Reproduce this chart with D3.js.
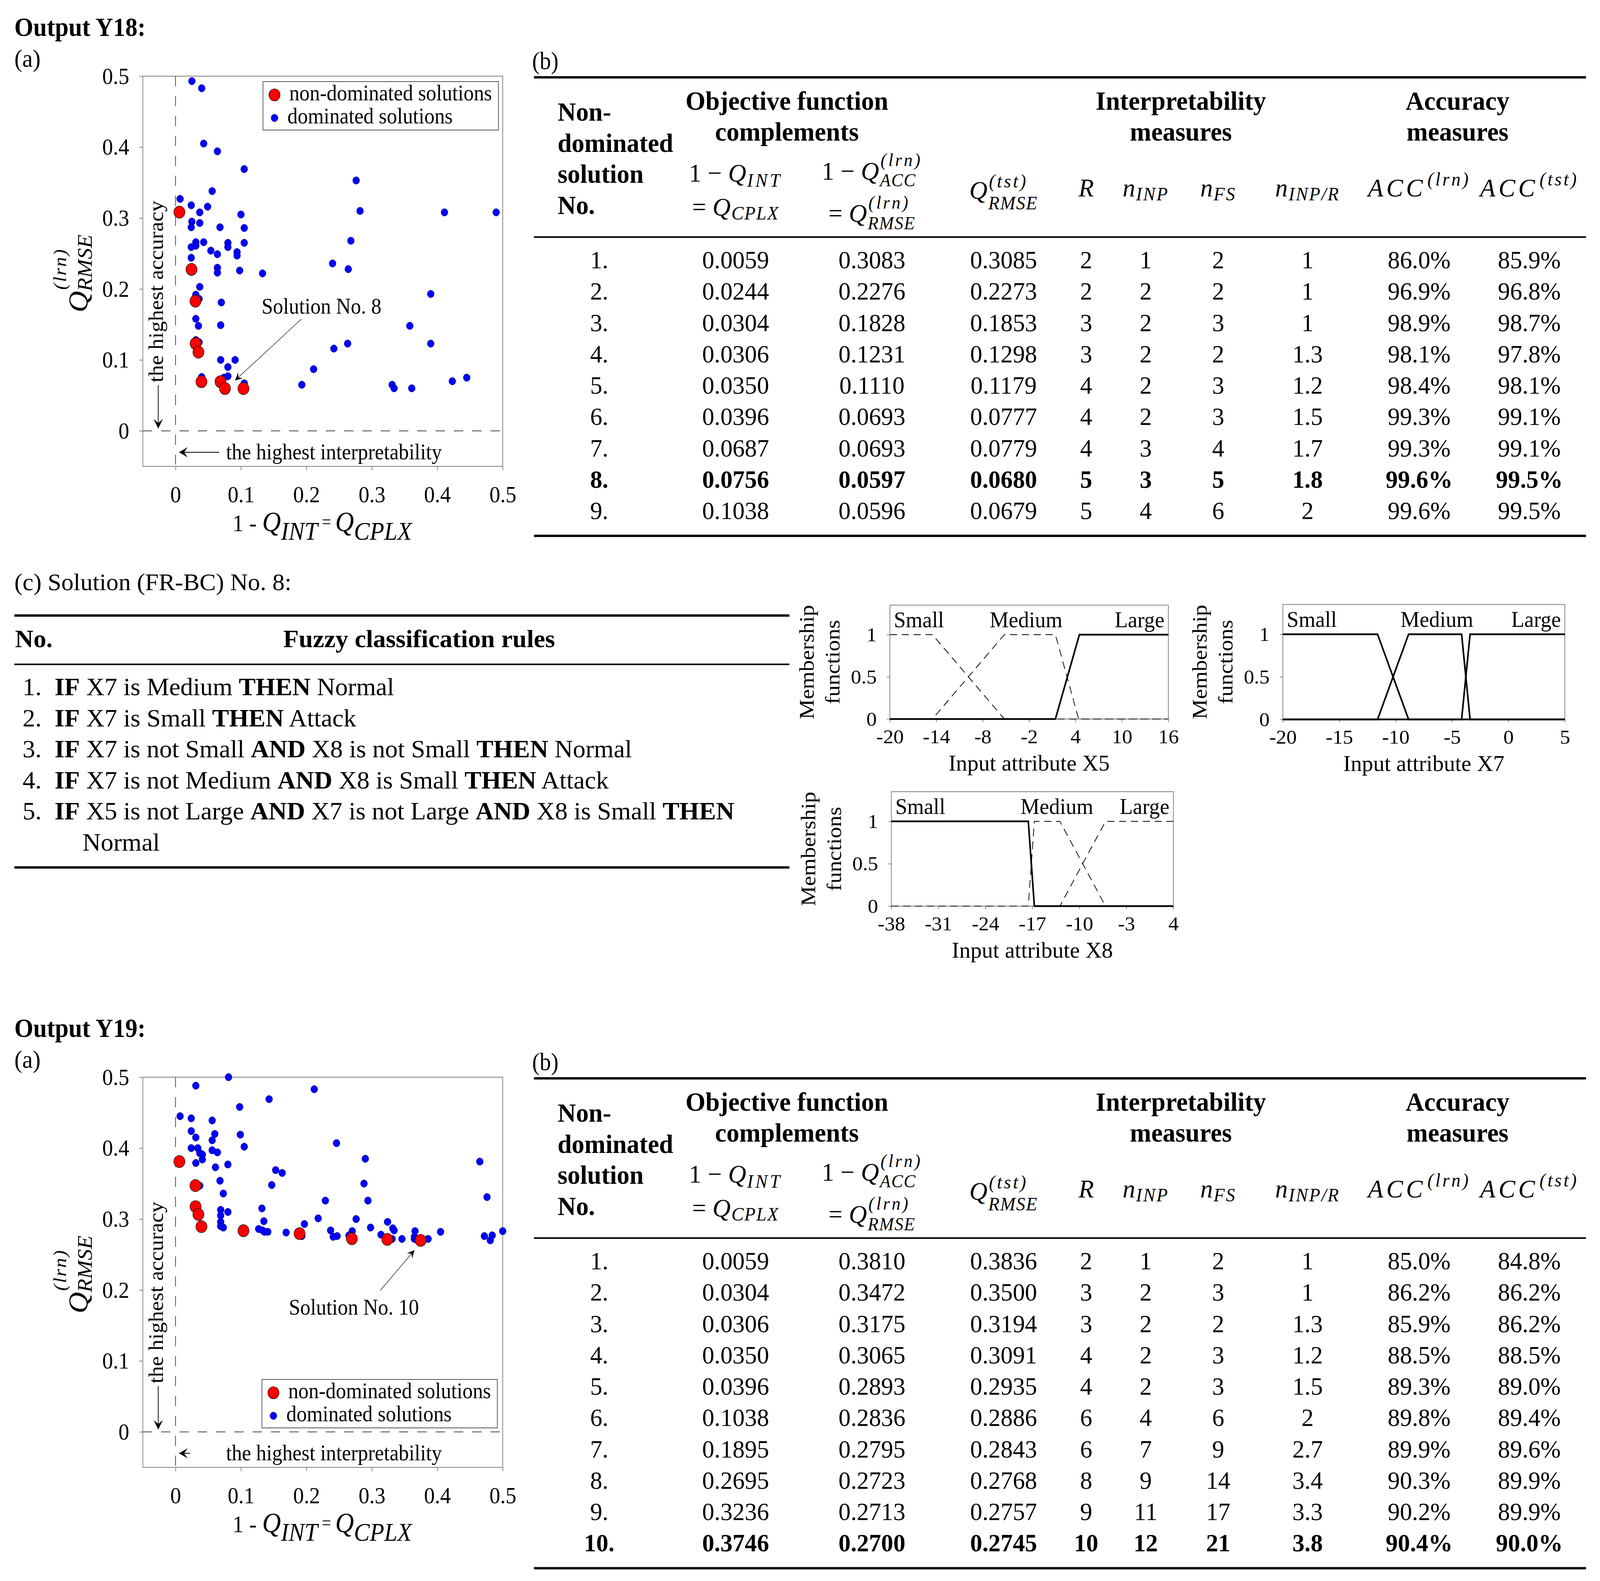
<!DOCTYPE html>
<html>
<head>
<meta charset="utf-8">
<script src="https://cdn.jsdelivr.net/npm/d3@7"></script>
<style>
  html, body { margin: 0; padding: 0; background: #fff; overflow: hidden; }
  #fig { width: 100vw; height: 100vh; }
  svg { display: block; width: 100vw; height: 100vh; }
  text { font-family: "Liberation Serif", "Times New Roman", serif; fill: #000; white-space: pre; }
</style>
</head>
<body>
<div id="fig"></div>
<script>
// -----------------------------------------
// DATA
// -----------------------------------------
var ticksQ = [0, 0.1, 0.2, 0.3, 0.4, 0.5];

// dominated solutions, Y18 : [1 - Q_INT, Q_RMSE(lrn)]
var y18Dominated = [
  [0.025,0.493],[0.040,0.483],[0.043,0.405],[0.064,0.394],[0.105,0.369],[0.276,0.353],
  [0.056,0.338],[0.007,0.327],[0.024,0.318],[0.049,0.316],[0.037,0.308],[0.100,0.305],
  [0.282,0.310],[0.411,0.308],[0.490,0.308],[0.025,0.295],[0.037,0.293],[0.024,0.287],
  [0.068,0.287],[0.105,0.286],[0.031,0.266],[0.043,0.266],[0.080,0.265],[0.105,0.265],
  [0.031,0.261],[0.024,0.259],[0.080,0.259],[0.268,0.268],[0.054,0.254],[0.064,0.249],
  [0.094,0.252],[0.094,0.247],[0.024,0.244],[0.064,0.230],[0.064,0.223],[0.098,0.226],
  [0.133,0.222],[0.240,0.236],[0.264,0.228],[0.037,0.203],[0.031,0.192],[0.036,0.186],
  [0.070,0.181],[0.390,0.193],[0.031,0.158],[0.035,0.148],[0.069,0.149],[0.358,0.148],
  [0.031,0.128],[0.036,0.125],[0.263,0.123],[0.390,0.123],[0.242,0.116],[0.069,0.100],
  [0.091,0.100],[0.080,0.090],[0.211,0.087],[0.080,0.077],[0.074,0.075],[0.040,0.076],
  [0.105,0.067],[0.193,0.065],[0.331,0.065],[0.334,0.060],[0.361,0.060],[0.423,0.070],
  [0.445,0.075],[0.072,0.066],[0.026,0.230]
];

// dominated solutions, Y19
var y19Dominated = [
  [0.081,0.500],[0.031,0.488],[0.212,0.483],[0.143,0.469],[0.098,0.458],[0.007,0.445],
  [0.024,0.442],[0.056,0.439],[0.024,0.424],[0.031,0.415],[0.060,0.420],[0.099,0.419],
  [0.056,0.411],[0.024,0.400],[0.034,0.400],[0.037,0.393],[0.056,0.397],[0.064,0.394],
  [0.041,0.391],[0.041,0.384],[0.105,0.402],[0.246,0.407],[0.031,0.379],[0.080,0.377],
  [0.290,0.385],[0.465,0.381],[0.061,0.373],[0.153,0.369],[0.163,0.365],[0.068,0.354],
  [0.288,0.350],[0.147,0.348],[0.037,0.347],[0.476,0.331],[0.073,0.336],[0.229,0.326],
  [0.294,0.326],[0.132,0.315],[0.069,0.313],[0.080,0.310],[0.069,0.305],[0.218,0.301],
  [0.276,0.300],[0.069,0.296],[0.135,0.297],[0.324,0.296],[0.197,0.293],[0.069,0.290],
  [0.073,0.288],[0.298,0.288],[0.332,0.287],[0.334,0.284],[0.127,0.286],[0.133,0.284],
  [0.103,0.284],[0.136,0.282],[0.141,0.282],[0.169,0.281],[0.237,0.284],[0.270,0.283],
  [0.366,0.283],[0.405,0.282],[0.500,0.283],[0.314,0.278],[0.472,0.276],[0.484,0.277],
  [0.193,0.276],[0.241,0.275],[0.247,0.276],[0.265,0.277],[0.365,0.275],[0.346,0.272],
  [0.331,0.272],[0.365,0.272],[0.386,0.272],[0.481,0.270],[0.370,0.270]
];

// table column groups
var tableGroups = ["Objective function", "complements", "Interpretability", "measures", "Accuracy", "measures"];

// non-dominated solutions tables
// No., 1-Q_INT, Q_RMSE(lrn), Q_RMSE(tst), R, n_INP, n_FS, n_INP/R, ACC(lrn), ACC(tst)
var y18Rows = [
  ["1.","0.0059","0.3083","0.3085","2","1","2","1","86.0%","85.9%"],
  ["2.","0.0244","0.2276","0.2273","2","2","2","1","96.9%","96.8%"],
  ["3.","0.0304","0.1828","0.1853","3","2","3","1","98.9%","98.7%"],
  ["4.","0.0306","0.1231","0.1298","3","2","2","1.3","98.1%","97.8%"],
  ["5.","0.0350","0.1110","0.1179","4","2","3","1.2","98.4%","98.1%"],
  ["6.","0.0396","0.0693","0.0777","4","2","3","1.5","99.3%","99.1%"],
  ["7.","0.0687","0.0693","0.0779","4","3","4","1.7","99.3%","99.1%"],
  ["8.","0.0756","0.0597","0.0680","5","3","5","1.8","99.6%","99.5%"],
  ["9.","0.1038","0.0596","0.0679","5","4","6","2","99.6%","99.5%"]
];
var y19Rows = [
  ["1.","0.0059","0.3810","0.3836","2","1","2","1","85.0%","84.8%"],
  ["2.","0.0304","0.3472","0.3500","3","2","3","1","86.2%","86.2%"],
  ["3.","0.0306","0.3175","0.3194","3","2","2","1.3","85.9%","86.2%"],
  ["4.","0.0350","0.3065","0.3091","4","2","3","1.2","88.5%","88.5%"],
  ["5.","0.0396","0.2893","0.2935","4","2","3","1.5","89.3%","89.0%"],
  ["6.","0.1038","0.2836","0.2886","6","4","6","2","89.8%","89.4%"],
  ["7.","0.1895","0.2795","0.2843","6","7","9","2.7","89.9%","89.6%"],
  ["8.","0.2695","0.2723","0.2768","8","9","14","3.4","90.3%","89.9%"],
  ["9.","0.3236","0.2713","0.2757","9","11","17","3.3","90.2%","89.9%"],
  ["10.","0.3746","0.2700","0.2745","10","12","21","3.8","90.4%","90.0%"]
];

// fuzzy rules of solution No. 8 (segments: [text, bold])
var rules = [
  ["1.", [["IF",1],[" X7 is Medium ",0],["THEN",1],[" Normal",0]]],
  ["2.", [["IF",1],[" X7 is Small ",0],["THEN",1],[" Attack",0]]],
  ["3.", [["IF",1],[" X7 is not Small ",0],["AND",1],[" X8 is not Small ",0],["THEN",1],[" Normal",0]]],
  ["4.", [["IF",1],[" X7 is not Medium ",0],["AND",1],[" X8 is Small ",0],["THEN",1],[" Attack",0]]],
  ["5.", [["IF",1],[" X5 is not Large ",0],["AND",1],[" X7 is not Large ",0],["AND",1],[" X8 is Small ",0],["THEN",1]]],
  ["",   [["Normal",0]]]
];

// membership functions (breakpoints)
var mfTicksX5 = [-20, -14, -8, -2, 4, 10, 16];
var mfTicksX7 = [-20, -15, -10, -5, 0, 5];
var mfTicksX8 = [-38, -31, -24, -17, -10, -3, 4];
var mfTicksY = [0, 0.5, 1];
var mfX5 = [
  ["Small",  [[-20,1],[-14.5,1],[-5.2,0],[16,0]]],
  ["Medium", [[-20,0],[-14.5,0],[-5.2,1],[1.4,1],[4.4,0],[16,0]]],
  ["Large",  [[-20,0],[1.4,0],[4.5,1],[16,1]]]
];
var mfX7 = [
  ["Small",  [[-20,1],[-11.6,1],[-8.85,0],[5,0]]],
  ["Medium", [[-20,0],[-11.6,0],[-8.85,1],[-4.15,1],[-3.4,0],[5,0]]],
  ["Large",  [[-20,0],[-4.15,0],[-3.4,1],[5,1]]]
];
var mfX8 = [
  ["Small",  [[-38,1],[-17.6,1],[-16.7,0],[4,0]]],
  ["Medium", [[-38,0],[-17.6,0],[-16.7,1],[-12.9,1],[-6.1,0],[4,0]]],
  ["Large",  [[-38,0],[-12.9,0],[-6.1,1],[4,1]]]
];
// sets used in the rule base (drawn solid)
var usedX5 = ["Large"];
var usedX7 = ["Small", "Medium", "Large"];
var usedX8 = ["Small"];

// -----------------------------------------
// SVG (stretched to fill the window)
// -----------------------------------------
var W = 4459, H = 4048;
var svg = d3.select("#fig").append("svg")
  .attr("viewBox", "0 0 " + W + " " + H)
  .attr("preserveAspectRatio", "none");
svg.append("rect").attr("width", W).attr("height", H).attr("fill", "#fff");

var fontF = "'Liberation Serif','Times New Roman',serif";

// text helper (with horizontal stretch)
function txt(g, x, y, s, o) {
  o = o || {};
  var t = g.append("text")
    .attr("transform", "translate(" + x + "," + y + ") scale(" + (o.sx || 1) + ",1)")
    .attr("font-size", o.size || 57)
    .attr("text-anchor", o.anchor || "start");
  if (o.bold) t.attr("font-weight", "bold");
  if (o.italic) t.attr("font-style", "italic");
  if (o.ls) t.attr("letter-spacing", o.ls);
  t.text(s);
  return t;
}

// filled barbed arrow head, tip at (x,y), pointing at angle (deg)
function arrowHead(g, x, y, ang, L, Wd, notch) {
  g.append("path")
    .attr("d", "M0,0 L" + (-L) + "," + (-Wd) + " L" + (-L + notch) + ",0 L" + (-L) + "," + Wd + " Z")
    .attr("transform", "translate(" + x + "," + y + ") rotate(" + ang + ")")
    .attr("fill", "#000");
}

function arrow(g, x1, y1, x2, y2, sw, head) {
  g.append("line").attr("x1", x1).attr("y1", y1).attr("x2", x2).attr("y2", y2)
    .attr("stroke", "#000").attr("stroke-width", sw);
  var ang = Math.atan2(y2 - y1, x2 - x1) * 180 / Math.PI;
  arrowHead(g, x2, y2, ang, head[0], head[1], head[2]);
}

// math label: pre + italic base + sub/sup, centred on cx
function mathLabel(g, cx, by, m) {
  var fs = m.fs || 66, ss = m.ss || 48;
  var grp = g.append("g").attr("transform", "translate(" + cx + "," + by + ") scale(1.06,1)");
  var inner = grp.append("g");
  var main = inner.append("text").attr("font-size", fs);
  if (m.pre) main.append("tspan").text(m.pre);
  main.append("tspan").attr("font-style", "italic").attr("letter-spacing", m.ls || 0).text(m.base);
  var w = main.node().getComputedTextLength();
  var extra = 0;
  if (m.sub) {
    var t1 = inner.append("text").attr("x", w + 2).attr("y", m.subDy)
      .attr("font-size", ss).attr("font-style", "italic").attr("letter-spacing", m.subLs || 2).text(m.sub);
    extra = Math.max(extra, t1.node().getComputedTextLength() + 2);
  }
  if (m.sup) {
    var t2 = inner.append("text").attr("x", w + 4).attr("y", m.supDy)
      .attr("font-size", ss).attr("font-style", "italic").attr("letter-spacing", 5).text(m.sup);
    extra = Math.max(extra, t2.node().getComputedTextLength() + 4);
  }
  inner.attr("transform", "translate(" + (-(w + extra) / 2) + ",0)");
}

// -----------------------------------------
// SCATTER (a)
// -----------------------------------------
function drawScatter(g, dominated, rows, p) {
  var x = d3.scaleLinear().domain([-0.05, 0.5]).range([398, 1401]);
  var y = d3.scaleLinear().domain([-0.05, 0.5]).range([1194, 195]);

  g.append("rect").attr("x", x(-0.05)).attr("y", y(0.5))
    .attr("width", x(0.5) - x(-0.05)).attr("height", y(-0.05) - y(0.5))
    .attr("fill", "none").attr("stroke", "#808080").attr("stroke-width", 2);

  var ax = g.append("g").attr("transform", "translate(0," + y(-0.05) + ")")
    .call(d3.axisBottom(x).tickValues(ticksQ).tickSize(10).tickPadding(39).tickFormat(function(d){ return String(d); }));
  var ay = g.append("g").attr("transform", "translate(" + x(-0.05) + ",0)")
    .call(d3.axisLeft(y).tickValues(ticksQ).tickSize(10).tickPadding(28).tickFormat(function(d){ return String(d); }));
  [ax, ay].forEach(function(a) {
    a.select(".domain").remove();
    a.selectAll("line").attr("stroke", "#808080").attr("stroke-width", 2);
    a.selectAll("text").attr("font-size", 60).attr("font-family", fontF).attr("fill", "#000");
  });

  // zero lines
  g.append("line").attr("x1", x(0)).attr("x2", x(0)).attr("y1", y(0.5)).attr("y2", y(-0.05))
    .attr("stroke", "#404040").attr("stroke-width", 2).attr("stroke-dasharray", "26,25");
  g.append("line").attr("x1", x(-0.05)).attr("x2", x(0.5)).attr("y1", y(0)).attr("y2", y(0))
    .attr("stroke", "#404040").attr("stroke-width", 2).attr("stroke-dasharray", "26,25");

  // points
  g.selectAll("circle.dom").data(dominated).enter().append("circle")
    .attr("class", "dom")
    .attr("cx", function(d){ return x(d[0]); })
    .attr("cy", function(d){ return y(d[1]); })
    .attr("r", 9.5).attr("fill", "#0000ff").attr("stroke", "#000070").attr("stroke-width", 1);
  g.selectAll("circle.nd").data(rows).enter().append("circle")
    .attr("class", "nd")
    .attr("cx", function(d){ return x(+d[1]); })
    .attr("cy", function(d){ return y(+d[2]); })
    .attr("r", 15.5).attr("fill", "#ff0000").attr("stroke", "#000").attr("stroke-width", 1.2);

  // legend
  var lg = p.legend;
  g.append("rect").attr("x", lg[0]).attr("y", lg[1]).attr("width", 656).attr("height", 124)
    .attr("fill", "#fff").attr("stroke", "#555").attr("stroke-width", 2);
  g.append("circle").attr("cx", lg[0] + 32).attr("cy", lg[1] + 34).attr("r", 15.5)
    .attr("fill", "#ff0000").attr("stroke", "#000").attr("stroke-width", 1.2);
  g.append("circle").attr("cx", lg[0] + 32).attr("cy", lg[1] + 93).attr("r", 9.5)
    .attr("fill", "#0000ff").attr("stroke", "#000070").attr("stroke-width", 1);
  txt(g, lg[0] + 73, lg[1] + 48, "non-dominated solutions", {size: 57});
  txt(g, lg[0] + 68, lg[1] + 107, "dominated solutions", {size: 57});

  // annotations
  var acc = g.append("g").attr("transform", "translate(454,979) rotate(-90)");
  acc.append("text").attr("font-size", 57).text("the highest accuracy");
  arrow(g, 441, 986, 441, 1097, 2, [24, 13, 10]);

  txt(g, 630, 1176, "the highest interpretability", {size: 57});
  arrow(g, p.interpFrom, 1158, 499, 1158, 2, [24, 13, 10]);

  txt(g, p.sol[1], p.sol[2], p.sol[0], {size: 57});
  arrow(g, p.sol[3], p.sol[4], p.sol[5], p.sol[6], 1.2, [20, 10, 8]);

  // axis titles
  var yl = g.append("g").attr("transform", "translate(244,800) rotate(-90)");
  yl.append("text").attr("font-size", 76).attr("font-style", "italic").text("Q");
  yl.append("text").attr("x", 54).attr("y", 12).attr("font-size", 57).attr("font-style", "italic").text("RMSE");
  yl.append("text").attr("x", 58).attr("y", -60).attr("font-size", 50).attr("font-style", "italic")
    .attr("letter-spacing", 3).text("(lrn)");

  var xl = g.append("text").attr("x", 648).attr("y", 1360);
  xl.append("tspan").attr("font-size", 62).text("1 - ");
  xl.append("tspan").attr("font-size", 72).attr("font-style", "italic").text("Q");
  xl.append("tspan").attr("font-size", 66).attr("font-style", "italic").attr("dy", 22).text("INT");
  xl.append("tspan").attr("font-size", 46).attr("dy", -31).text(" = ");
  xl.append("tspan").attr("font-size", 72).attr("font-style", "italic").attr("dy", 9).text("Q");
  xl.append("tspan").attr("font-size", 66).attr("font-style", "italic").attr("dy", 22).text("CPLX");
}

// -----------------------------------------
// TABLE (b)
// -----------------------------------------
var colX = [1670, 2050, 2430, 2797, 3027, 3193, 3395, 3644, 3955, 4262];

function drawTable(g, rows, boldRow) {
  var top = 198, L = 1488, R = 4420;
  txt(g, 1483, top - 21, "(b)", {size: 63});
  g.append("line").attr("x1", L).attr("x2", R).attr("y1", top).attr("y2", top)
    .attr("stroke", "#000").attr("stroke-width", 6);

  var hb = {size: 68, bold: true, sx: 1.04};
  ["Non-", "dominated", "solution", "No."].forEach(function(s, i) {
    txt(g, 1554, top + 111 + i * 79.5, s, hb);
  });
  var hc = {size: 68, bold: true, sx: 1.05, anchor: "middle"};
  txt(g, 2193, top + 83, tableGroups[0], hc);
  txt(g, 2193, top + 162, tableGroups[1], hc);
  txt(g, 3291, top + 83, tableGroups[2], hc);
  txt(g, 3291, top + 162, tableGroups[3], hc);
  txt(g, 4062, top + 83, tableGroups[4], hc);
  txt(g, 4062, top + 162, tableGroups[5], hc);

  mathLabel(g, colX[1], top + 267, {pre: "1 \u2212 ", base: "Q", sub: "INT", subDy: 13, subLs: 6});
  mathLabel(g, colX[1], top + 354, {pre: "= ", base: "Q", sub: "CPLX", subDy: 10});
  mathLabel(g, colX[2], top + 262, {pre: "1 \u2212 ", base: "Q", sub: "ACC", subDy: 17, sup: "(lrn)", supDy: -35, ss: 46});
  mathLabel(g, colX[2], top + 370, {pre: "= ", base: "Q", sub: "RMSE", subDy: 19, sup: "(lrn)", supDy: -34, ss: 46});
  mathLabel(g, colX[3], top + 311, {base: "Q", sub: "RMSE", subDy: 27, sup: "(tst)", supDy: -29});
  mathLabel(g, colX[4], top + 305, {base: "R"});
  mathLabel(g, colX[5], top + 305, {base: "n", sub: "INP", subDy: 10, subLs: 3});
  mathLabel(g, colX[6], top + 305, {base: "n", sub: "FS", subDy: 10, subLs: 3});
  mathLabel(g, colX[7], top + 305, {base: "n", sub: "INP/R", subDy: 10, subLs: 3});
  mathLabel(g, colX[8], top + 305, {base: "ACC", ls: 8, sup: "(lrn)", supDy: -28});
  mathLabel(g, colX[9], top + 305, {base: "ACC", ls: 8, sup: "(tst)", supDy: -28});

  g.append("line").attr("x1", L).attr("x2", R).attr("y1", top + 409).attr("y2", top + 409)
    .attr("stroke", "#000").attr("stroke-width", 4);

  rows.forEach(function(r, i) {
    var by = top + 489 + i * 80.25;
    r.forEach(function(c, j) {
      txt(g, colX[j], by, c, {size: 64, sx: 1.06, anchor: "middle", bold: (i + 1) === boldRow});
    });
  });
  var bottom = top + 489 + (rows.length - 1) * 80.25 + 43;
  g.append("line").attr("x1", L).attr("x2", R).attr("y1", bottom).attr("y2", bottom)
    .attr("stroke", "#000").attr("stroke-width", 6);
}

// -----------------------------------------
// PANELS Y18 / Y19
// -----------------------------------------
var panels = [
  {title: "Output Y18:", dy: 0, dom: y18Dominated, rows: y18Rows, bold: 8,
   legend: [733, 209], interpFrom: 611,
   sol: ["Solution No. 8", 729, 803, 840, 817, 655, 974]},
  {title: "Output Y19:", dy: 2563, dom: y19Dominated, rows: y19Rows, bold: 10,
   legend: [730, 969], interpFrom: 530,
   sol: ["Solution No. 10", 805, 803, 1060, 741, 1155, 638]}
];

panels.forEach(function(p) {
  var g = svg.append("g").attr("transform", "translate(0," + p.dy + ")");
  txt(g, 40, 92, p.title, {size: 68, bold: true});
  txt(g, 40, 171, "(a)", {size: 64, sx: 1.03});
  drawScatter(g, p.dom, p.rows, p);
  drawTable(g, p.rows, p.bold);
});

// -----------------------------------------
// (c) RULES
// -----------------------------------------
var gc = svg.append("g");
txt(gc, 40, 1511, "(c) Solution (FR-BC) No. 8:", {size: 61, sx: 1.12});
gc.append("line").attr("x1", 40).attr("x2", 2200).attr("y1", 1576).attr("y2", 1576)
  .attr("stroke", "#000").attr("stroke-width", 6);
txt(gc, 42, 1657, "No.", {size: 64, bold: true, sx: 1.11});
txt(gc, 1168, 1657, "Fuzzy classification rules", {size: 64, bold: true, sx: 1.11, anchor: "middle"});
gc.append("line").attr("x1", 40).attr("x2", 2200).attr("y1", 1701).attr("y2", 1701)
  .attr("stroke", "#000").attr("stroke-width", 4);
rules.forEach(function(r, i) {
  var by = 1780 + i * 79.5;
  if (r[0]) txt(gc, 63, by, r[0], {size: 63, sx: 1.12});
  var t = gc.append("text")
    .attr("transform", "translate(" + (r[0] ? 152 : 230) + "," + by + ") scale(1.12,1)")
    .attr("font-size", 63);
  r[1].forEach(function(s) {
    t.append("tspan").attr("font-weight", s[1] ? "bold" : "normal").text(s[0]);
  });
});
gc.append("line").attr("x1", 40).attr("x2", 2200).attr("y1", 2221).attr("y2", 2221)
  .attr("stroke", "#000").attr("stroke-width", 6);

// -----------------------------------------
// MEMBERSHIP FUNCTIONS
// -----------------------------------------
var mfPanels = [
  {name: "X5", sets: mfX5, ticks: mfTicksX5, used: usedX5, left: 2480, right: 3256, zero: 1841, one: 1625, medX: 2758},
  {name: "X7", sets: mfX7, ticks: mfTicksX7, used: usedX7, left: 3575, right: 4361, zero: 1842, one: 1624, medX: 3903},
  {name: "X8", sets: mfX8, ticks: mfTicksX8, used: usedX8, left: 2484, right: 3270, zero: 2320, one: 2103, medX: 2844}
];

mfPanels.forEach(function(m) {
  var g = svg.append("g");
  var ext = d3.extent(m.ticks);
  var x = d3.scaleLinear().domain(ext).range([m.left, m.right]);
  var y = d3.scaleLinear().domain([0, 1]).range([m.zero, m.one]);
  var topY = y(1.35);

  g.append("rect").attr("x", m.left).attr("y", topY).attr("width", m.right - m.left).attr("height", m.zero - topY)
    .attr("fill", "none").attr("stroke", "#808080").attr("stroke-width", 2);

  var ax = g.append("g").attr("transform", "translate(0," + m.zero + ")")
    .call(d3.axisBottom(x).tickValues(m.ticks).tickSize(8).tickPadding(19).tickFormat(function(d){ return String(d); }));
  var ay = g.append("g").attr("transform", "translate(" + m.left + ",0)")
    .call(d3.axisLeft(y).tickValues(mfTicksY).tickSize(8).tickPadding(28).tickFormat(function(d){ return String(d); }));
  [ax, ay].forEach(function(a) {
    a.select(".domain").remove();
    a.selectAll("line").attr("stroke", "#808080").attr("stroke-width", 2);
    a.selectAll("text").attr("font-size", 50).attr("font-family", fontF).attr("fill", "#000");
  });
  ax.selectAll("text").attr("transform", "scale(1.15,1)");
  ay.selectAll("text").attr("x", -32).attr("transform", "scale(1.15,1)");

  var line = d3.line().x(function(d){ return x(d[0]); }).y(function(d){ return y(d[1]); });
  var dashed = m.sets.filter(function(s){ return m.used.indexOf(s[0]) < 0; });
  var solid = m.sets.filter(function(s){ return m.used.indexOf(s[0]) >= 0; });
  dashed.forEach(function(s) {
    g.append("path").attr("d", line(s[1])).attr("fill", "none")
      .attr("stroke", "#000").attr("stroke-width", 2).attr("stroke-dasharray", "20,13");
  });
  solid.forEach(function(s) {
    g.append("path").attr("d", line(s[1])).attr("fill", "none")
      .attr("stroke", "#000").attr("stroke-width", 4.5).attr("stroke-linejoin", "miter");
  });

  // set labels
  var ly = topY + 57;
  txt(g, m.left + 11, ly, m.sets[0][0], {size: 57, sx: 1.05});
  txt(g, m.medX, ly, m.sets[1][0], {size: 57, sx: 1.05});
  txt(g, m.right - 11, ly, m.sets[2][0], {size: 57, sx: 1.05, anchor: "end"});

  // axis titles
  txt(g, (m.left + m.right) / 2, m.zero + 132, "Input attribute " + m.name, {size: 56, sx: 1.12, anchor: "middle"});
  var cy = (topY + m.zero) / 2;
  var yt = g.append("g").attr("transform", "translate(" + (m.left - 212) + "," + cy + ") rotate(-90)");
  yt.append("text").attr("font-size", 58).attr("text-anchor", "middle").text("Membership");
  yt.append("text").attr("y", 72).attr("font-size", 58).attr("text-anchor", "middle").text("functions");
});
</script>
</body>
</html>
